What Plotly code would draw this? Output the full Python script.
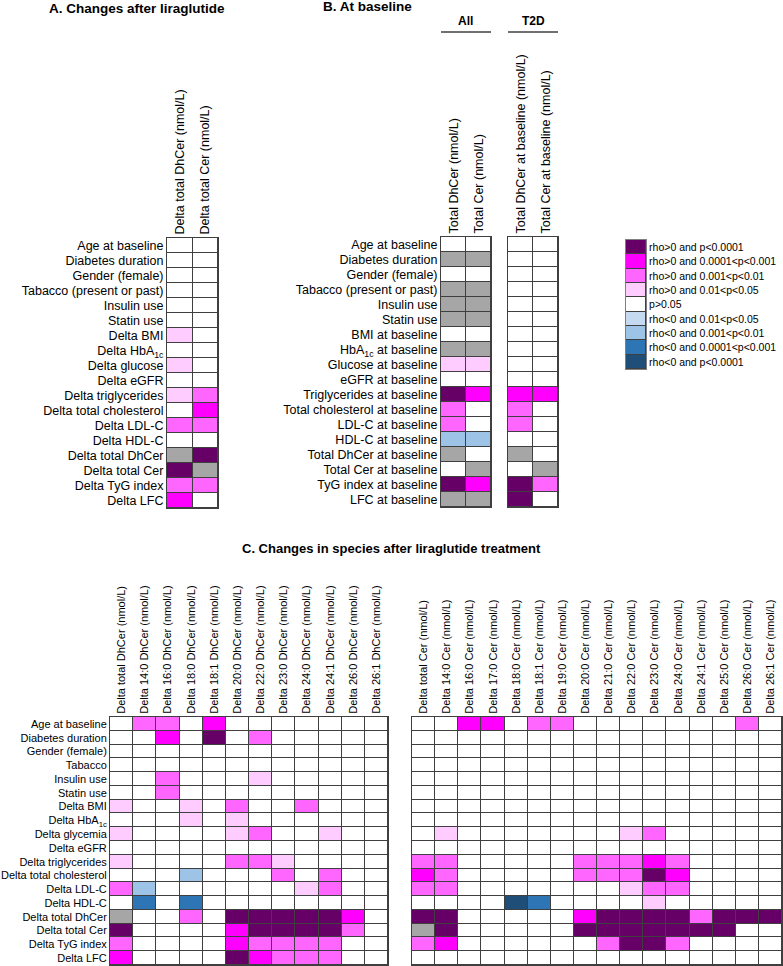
import plotly.graph_objects as go

W, H = 783, 966
FONT = "Liberation Sans, Arial, sans-serif"

# ---------------- legend / levels ----------------
LEVEL_LABELS = ["rho>0 and p<0.0001", "rho>0 and 0.0001<p<0.001", "rho>0 and 0.001<p<0.01",
                "rho>0 and 0.01<p<0.05", "p>0.05", "rho<0 and 0.01<p<0.05",
                "rho<0 and 0.001<p<0.01", "rho<0 and 0.0001<p<0.001", "rho<0 and p<0.0001"]
LEVEL_CODES = [4, 3, 2, 1, 0, -1, -2, -3, -4]
LEVEL_COLORS = ["#660066", "#ff00ff", "#ff66ff", "#ffccff", "#ffffff",
                "#c5d9f1", "#9dc3e6", "#2e75b6", "#1f4e79"]
G = 9            # same variable (grey)
GREY = "#a6a6a6"

# ---------------- Panel A ----------------
a_rows = ["Age at baseline", "Diabetes duration", "Gender (female)", "Tabacco (present or past)",
          "Insulin use", "Statin use", "Delta BMI", "Delta HbA<sub>1c</sub>", "Delta glucose",
          "Delta eGFR", "Delta triglycerides", "Delta total cholesterol", "Delta LDL-C",
          "Delta HDL-C", "Delta total DhCer", "Delta total Cer", "Delta TyG index", "Delta LFC"]
a_cols = ["Delta total DhCer (nmol/L)", "Delta total Cer (nmol/L)"]
a_dhcer = [0, 0, 0, 0, 0, 0, 1, 0, 1, 0, 1, 0, 2, 0, G, 4, 2, 3]
a_cer = [0, 0, 0, 0, 0, 0, 0, 0, 0, 0, 2, 3, 2, 0, 4, G, 2, 0]

# ---------------- Panel B ----------------
b_rows = ["Age at baseline", "Diabetes duration", "Gender (female)", "Tabacco (present or past)",
          "Insulin use", "Statin use", "BMI at baseline", "HbA<sub>1c</sub> at baseline",
          "Glucose at baseline", "eGFR at baseline", "Triglycerides at baseline",
          "Total cholesterol at baseline", "LDL-C at baseline", "HDL-C at baseline",
          "Total DhCer at baseline", "Total Cer at baseline", "TyG index at baseline",
          "LFC at baseline"]
b_all_cols = ["Total DhCer (nmol/L)", "Total Cer (nmol/L)"]
b_all_dhcer = [0, G, 0, G, G, G, 0, G, 1, 0, 4, 2, 2, -2, G, 0, 4, G]
b_all_cer = [0, G, 0, G, G, G, 0, G, 1, 0, 3, 0, 0, -2, 0, G, 3, G]
b_t2d_cols = ["Total DhCer at baseline (nmol/L)", "Total Cer at baseline (nmol/L)"]
b_t2d_dhcer = [0, 0, 0, 0, 0, 0, 0, 0, 0, 0, 3, 2, 2, 0, G, 0, 4, 4]
b_t2d_cer = [0, 0, 0, 0, 0, 0, 0, 0, 0, 0, 3, 0, 0, 0, 0, G, 2, 0]

# ---------------- Panel C ----------------
c_rows = ["Age at baseline", "Diabetes duration", "Gender (female)", "Tabacco", "Insulin use",
          "Statin use", "Delta BMI", "Delta HbA<sub>1c</sub>", "Delta glycemia", "Delta eGFR",
          "Delta triglycerides", "Delta total cholesterol", "Delta LDL-C", "Delta HDL-C",
          "Delta total DhCer", "Delta total Cer", "Delta TyG index", "Delta LFC"]
c_dhcer_cols = ["Delta total DhCer (nmol/L)", "Delta 14:0 DhCer (nmol/L)", "Delta 16:0 DhCer (nmol/L)",
                "Delta 18:0 DhCer (nmol/L)", "Delta 18:1 DhCer (nmol/L)", "Delta 20:0 DhCer (nmol/L)",
                "Delta 22:0 DhCer (nmol/L)", "Delta 23:0 DhCer (nmol/L)", "Delta 24:0 DhCer (nmol/L)",
                "Delta 24:1 DhCer (nmol/L)", "Delta 26:0 DhCer (nmol/L)", "Delta 26:1 DhCer (nmol/L)"]
c_dhcer = [
    [0, 2, 2, 0, 3, 0, 0, 0, 0, 0, 0, 0],
    [0, 0, 3, 0, 4, 0, 2, 0, 0, 0, 0, 0],
    [0, 0, 0, 0, 0, 0, 0, 0, 0, 0, 0, 0],
    [0, 0, 0, 0, 0, 0, 0, 0, 0, 0, 0, 0],
    [0, 0, 2, 0, 0, 0, 1, 0, 0, 0, 0, 0],
    [0, 0, 2, 0, 0, 0, 0, 0, 0, 0, 0, 0],
    [1, 0, 0, 1, 0, 2, 0, 0, 2, 0, 0, 0],
    [0, 0, 0, 1, 0, 1, 0, 0, 0, 0, 0, 0],
    [1, 0, 0, 0, 0, 1, 2, 0, 0, 1, 0, 0],
    [0, 0, 0, 0, 0, 0, 0, 0, 0, 0, 0, 0],
    [1, 0, 0, 0, 0, 2, 2, 1, 0, 0, 0, 0],
    [0, 0, 0, -2, 0, 0, 0, 2, 0, 2, 0, 0],
    [2, -2, 0, 0, 0, 0, 0, 0, 1, 2, 0, 0],
    [0, -3, 0, -3, 0, 0, 0, 0, 0, 0, 0, 0],
    [G, 0, 0, 2, 0, 4, 4, 4, 4, 4, 3, 0],
    [4, 0, 0, 0, 0, 3, 4, 4, 4, 4, 2, 0],
    [2, 0, 0, 0, 0, 3, 2, 2, 2, 2, 0, 0],
    [3, 0, 0, 0, 0, 4, 3, 2, 2, 2, 0, 0],
]
c_cer_cols = ["Delta total Cer (nmol/L)", "Delta 14:0 Cer (nmol/L)", "Delta 16:0 Cer (nmol/L)",
              "Delta 17:0 Cer (nmol/L)", "Delta 18:0 Cer (nmol/L)", "Delta 18:1 Cer (nmol/L)",
              "Delta 19:0 Cer (nmol/L)", "Delta 20:0 Cer (nmol/L)", "Delta 21:0 Cer (nmol/L)",
              "Delta 22:0 Cer (nmol/L)", "Delta 23:0 Cer (nmol/L)", "Delta 24:0 Cer (nmol/L)",
              "Delta 24:1 Cer (nmol/L)", "Delta 25:0 Cer (nmol/L)", "Delta 26:0 Cer (nmol/L)",
              "Delta 26:1 Cer (nmol/L)"]
c_cer = [
    [0, 0, 3, 3, 0, 2, 2, 0, 0, 0, 0, 0, 0, 0, 2, 0],
    [0, 0, 0, 0, 0, 0, 0, 0, 0, 0, 0, 0, 0, 0, 0, 0],
    [0, 0, 0, 0, 0, 0, 0, 0, 0, 0, 0, 0, 0, 0, 0, 0],
    [0, 0, 0, 0, 0, 0, 0, 0, 0, 0, 0, 0, 0, 0, 0, 0],
    [0, 0, 0, 0, 0, 0, 0, 0, 0, 0, 0, 0, 0, 0, 0, 0],
    [0, 0, 0, 0, 0, 0, 0, 0, 0, 0, 0, 0, 0, 0, 0, 0],
    [0, 0, 0, 0, 0, 0, 0, 0, 0, 0, 0, 0, 0, 0, 0, 0],
    [0, 0, 0, 0, 0, 0, 0, 0, 0, 0, 0, 0, 0, 0, 0, 0],
    [0, 1, 0, 0, 0, 0, 0, 0, 0, 1, 2, 0, 0, 0, 0, 0],
    [0, 0, 0, 0, 0, 0, 0, 0, 0, 0, 0, 0, 0, 0, 0, 0],
    [2, 2, 0, 0, 0, 0, 0, 2, 2, 2, 3, 2, 0, 0, 0, 0],
    [3, 2, 0, 0, 0, 0, 0, 2, 2, 2, 4, 3, 0, 0, 0, 0],
    [2, 2, 0, 0, 0, 0, 0, 0, 0, 1, 2, 2, 0, 0, 0, 0],
    [0, 0, 0, 0, -4, -3, 0, 0, 0, 0, 1, 0, 0, 0, 0, 0],
    [4, 4, 0, 0, 0, 0, 0, 3, 4, 4, 4, 4, 2, 4, 4, 4],
    [G, 4, 0, 0, 0, 0, 0, 4, 4, 4, 4, 4, 4, 4, 0, 0],
    [2, 3, 0, 0, 0, 0, 0, 0, 2, 4, 4, 2, 0, 0, 0, 0],
    [0, 0, 0, 0, 0, 0, 0, 0, 0, 0, 0, 0, 0, 0, 0, 0],
]

# ---------------- helpers ----------------
ALL_COLORS = LEVEL_COLORS + [GREY]
CODE_INDEX = {c: i for i, c in enumerate(LEVEL_CODES)}
CODE_INDEX[G] = len(LEVEL_CODES)
CSCALE = []
for i, col in enumerate(ALL_COLORS):
    CSCALE.append([i / len(ALL_COLORS), col])
    CSCALE.append([(i + 1) / len(ALL_COLORS), col])

LINE = "#3f3f3f"


def px_x(a, b):
    return [a / W, b / W]


def px_y(top, bottom):
    return [1 - bottom / H, 1 - top / H]


fig = go.Figure()
layout_axes = {}


def add_grid(n, matrix, cols, rows, xd, yd, row_font=12.5, col_font=12.5,
             show_rows=True, show_cols=True, rows_right=False, line=LINE):
    z = [[CODE_INDEX[v] for v in r] for r in matrix]
    sfx = "" if n == 1 else str(n)
    fig.add_trace(go.Heatmap(
        z=z, x=cols, y=rows, xaxis="x" + sfx, yaxis="y" + sfx,
        colorscale=CSCALE, zmin=-0.5, zmax=len(ALL_COLORS) - 0.5,
        showscale=False, xgap=1, ygap=1, hoverinfo="skip"))
    layout_axes["xaxis" + sfx] = dict(
        domain=px_x(*xd), anchor="y" + sfx, side="top", tickangle=-90,
        showticklabels=show_cols, tickfont=dict(size=col_font, color="black", family=FONT),
        ticks="", showgrid=False, zeroline=False, showline=True, mirror=True,
        linecolor=line, linewidth=1, fixedrange=True, type="category")
    layout_axes["yaxis" + sfx] = dict(
        domain=px_y(*yd), anchor="x" + sfx, autorange="reversed",
        side="right" if rows_right else "left",
        showticklabels=show_rows, tickfont=dict(size=row_font, color="black", family=FONT),
        ticks="", showgrid=False, zeroline=False, showline=True, mirror=True,
        linecolor=line, linewidth=1, fixedrange=True, type="category")


# Panel A
add_grid(1, [list(r) for r in zip(a_dhcer, a_cer)], a_cols, a_rows, (167, 218), (238, 508))
# Panel B
add_grid(2, [list(r) for r in zip(b_all_dhcer, b_all_cer)], b_all_cols, b_rows, (441, 491), (237, 507))
add_grid(3, [list(r) for r in zip(b_t2d_dhcer, b_t2d_cer)], b_t2d_cols, b_rows, (508, 558), (237, 507),
         show_rows=False)
# Legend
add_grid(4, [[c] for c in LEVEL_CODES], ["k"], LEVEL_LABELS, (626, 646), (240, 369),
         row_font=10.5, show_cols=False, rows_right=True, line="#7f7f7f")
# Panel C
add_grid(5, c_dhcer, c_dhcer_cols, c_rows, (110, 388), (717, 965), row_font=11, col_font=11)
add_grid(6, c_cer, c_cer_cols, c_rows, (412, 782), (717, 965), row_font=11, col_font=11,
         show_rows=False)


def ann(text, xpx, ypx, size, xanchor="center"):
    return dict(text=text, x=xpx / W, y=1 - ypx / H, xref="paper", yref="paper",
                xanchor=xanchor, yanchor="middle", showarrow=False,
                font=dict(size=size, color="black", family=FONT))


annotations = [
    ann("<b>A. Changes after liraglutide</b>", 137, 8, 13.5),
    ann("<b>B. At baseline</b>", 367, 6, 13.5),
    ann("<b>All</b>", 466, 21, 12),
    ann("<b>T2D</b>", 533, 21, 12),
    ann("<b>C. Changes in species after liraglutide treatment</b>", 391, 548, 13),
]
shapes = [
    dict(type="line", xref="paper", yref="paper", x0=441 / W, x1=491 / W, y0=1 - 32 / H, y1=1 - 32 / H,
         line=dict(color="#404040", width=1.5)),
    dict(type="line", xref="paper", yref="paper", x0=508 / W, x1=558 / W, y0=1 - 32 / H, y1=1 - 32 / H,
         line=dict(color="#404040", width=1.5)),
]

fig.update_layout(
    width=W, height=H, margin=dict(l=0, r=0, t=0, b=0),
    paper_bgcolor="white", plot_bgcolor=LINE,
    font=dict(family=FONT, color="black"),
    showlegend=False, annotations=annotations, shapes=shapes,
    **layout_axes)

fig.write_html("out.html", config={"displayModeBar": False},
               post_script="document.body.style.margin='0';document.body.style.overflow='hidden';")
